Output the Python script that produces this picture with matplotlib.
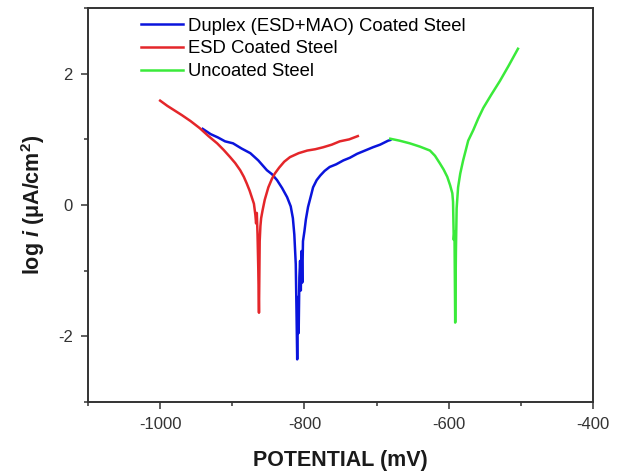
import matplotlib
matplotlib.use("Agg")
import matplotlib.pyplot as plt
from matplotlib.ticker import MultipleLocator

plt.rcParams['font.family'] = ['Liberation Sans', 'DejaVu Sans']
plt.rcParams['axes.unicode_minus'] = False
plt.rcParams['mathtext.fontset'] = 'custom'
plt.rcParams['mathtext.rm'] = 'Liberation Sans'
plt.rcParams['mathtext.bf'] = 'Liberation Sans:bold'
plt.rcParams['mathtext.it'] = 'Liberation Sans:italic'
plt.rcParams['mathtext.bfit'] = 'Liberation Sans:bold:italic'

# Duplex (ESD+MAO) coated steel
duplex_mv = [-941, -930, -920, -910, -899, -887, -875, -864, -852, -845, -838,
             -831, -824, -819, -816, -814, -812, -811, -810, -809, -808, -807,
             -806, -805, -804, -803, -802, -800, -798, -795, -791, -788, -783,
             -778, -772, -765, -756, -746, -737, -727, -716, -705, -695, -684, -681]
duplex_log = [1.16, 1.08, 1.03, 0.97, 0.94, 0.86, 0.79, 0.68, 0.53, 0.47, 0.38,
              0.26, 0.12, -0.02, -0.20, -0.45, -0.90, -1.60, -2.35, -1.40, -1.95, -1.10,
              -0.85, -1.30, -0.70, -1.18, -0.55, -0.40, -0.22, -0.03, 0.14, 0.27, 0.38,
              0.45, 0.52, 0.58, 0.62, 0.68, 0.72, 0.78, 0.83, 0.88, 0.92, 0.98, 0.99]

# ESD coated steel
esd_mv = [-1000, -990, -980, -970, -958, -945, -933, -921, -912, -903, -896,
          -889, -884, -880, -876, -873, -870, -868, -867, -866, -865, -864,
          -863, -862, -861, -860, -858, -855, -850, -845, -841, -835, -828,
          -820, -808, -796, -785, -774, -762, -751, -738, -726]
esd_log = [1.59, 1.51, 1.44, 1.37, 1.28, 1.17, 1.05, 0.94, 0.84, 0.73, 0.64,
           0.53, 0.43, 0.33, 0.22, 0.12, 0.02, -0.15, -0.28, -0.12, -0.45, -0.95,
           -1.64, -0.55, -0.32, -0.20, -0.08, 0.08, 0.27, 0.40, 0.48, 0.57, 0.66,
           0.73, 0.79, 0.83, 0.85, 0.88, 0.92, 0.97, 1.00, 1.05]

# uncoated steel
bare_mv = [-681, -668, -654, -640, -626, -619, -612, -607, -602, -598, -595,
           -594, -593, -592, -591, -590, -589, -587, -584, -580, -576, -573,
           -566, -559, -552, -541, -529, -517, -504]
bare_log = [1.01, 0.98, 0.94, 0.89, 0.83, 0.75, 0.63, 0.54, 0.43, 0.30, 0.18,
            0.05, -0.53, -0.40, -1.79, -0.70, -0.05, 0.27, 0.48, 0.68, 0.85, 0.98,
            1.14, 1.32, 1.48, 1.68, 1.89, 2.12, 2.38]

fig = plt.figure(figsize=(6.21, 4.73), dpi=100)
ax = fig.add_axes([0.1417, 0.150, 0.8132, 0.833])

ax.plot(duplex_mv, duplex_log, color='#0a14dc', lw=1.8, label='Duplex (ESD+MAO) Coated Steel')
ax.plot(esd_mv, esd_log, color='#e4262a', lw=1.8, label='ESD Coated Steel')
ax.plot(bare_mv, bare_log, color='#3aea3a', lw=1.8, label='Uncoated Steel')

ax.set_xlim(-1100, -400)
ax.set_ylim(-3, 3)
ax.xaxis.set_major_locator(MultipleLocator(200))
ax.xaxis.set_minor_locator(MultipleLocator(100))
ax.yaxis.set_major_locator(MultipleLocator(2))
ax.yaxis.set_minor_locator(MultipleLocator(1))
ax.tick_params(which='both', direction='out', width=1.1, color='#333333',
               labelsize=12, labelcolor='#333333', top=False, right=False)
ax.tick_params(which='major', length=5, pad=6)
ax.tick_params(which='minor', length=3)
for s in ax.spines.values():
    s.set_color('#333333')
    s.set_linewidth(1.4)

ax.set_xlabel('POTENTIAL (mV)', fontsize=15.5, fontweight='bold', color='#1a1a1a', labelpad=13)
ax.set_ylabel(r'log $\mathbfit{i}$ (μA/cm$^\mathbf{2}$)', fontsize=15.5, fontweight='bold',
              color='#1a1a1a', labelpad=8)

ax.legend(loc='upper left', bbox_to_anchor=(0.105, 0.975), frameon=False, fontsize=13.3,
          handlelength=2.27, handletextpad=0.3, labelspacing=0.3, borderpad=0,
          borderaxespad=0)

fig.savefig('out.png', dpi=100)
